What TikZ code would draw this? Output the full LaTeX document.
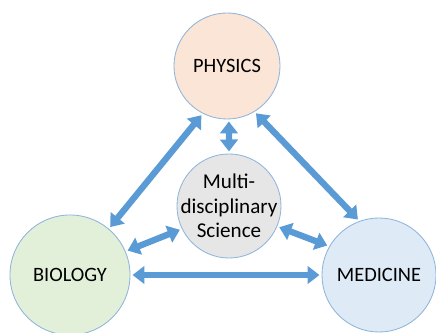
\documentclass[tikz,border=0pt]{standalone}
\usepackage{fontspec}
\setmainfont{Carlito}
\usepackage{xcolor}
\usetikzlibrary{arrows.meta}

\definecolor{physfill}{HTML}{FBE5D6}
\definecolor{biofill}{HTML}{E2F0D9}
\definecolor{medfill}{HTML}{DEEBF7}
\definecolor{scifill}{HTML}{E7E6E6}
\definecolor{ringblue}{HTML}{8FB4DC}
\definecolor{arrowblue}{HTML}{5B9BD5}

\begin{document}
\begin{tikzpicture}[
    x=0.025cm, y=-0.025cm,
    field/.style={circle, draw=ringblue, line width=0.6pt, align=center, font=\fontsize{14.5}{17}\selectfont},
    arrow/.style={{Triangle[length=8.5pt, width=12.5pt]}-{Triangle[length=8.5pt, width=12.5pt]}, line width=4.5pt, draw=arrowblue, shorten <=1.5pt, shorten >=1.5pt}
]
    \useasboundingbox (0,0) rectangle (436,333);

    \node[field, fill=physfill, minimum size=2.65cm] (phys) at (227,66) {PHYSICS};
    \node[field, fill=biofill, minimum size=3cm] (bio) at (70,275) {BIOLOGY};
    \node[field, fill=medfill, minimum size=2.85cm] (med) at (379,275) {MEDICINE};
    % text is wider than the ring, so pull the border in
    \node[field, fill=scifill, font=\fontsize{15}{17.5}\selectfont, inner sep=-6pt, minimum size=2.6cm] (sci) at (229,206) {Multi-\\disciplinary\\Science};

    \draw[arrow] (phys.-117) -- (bio.50);
    \draw[arrow] (phys.-59) -- (med.110);
    \draw[arrow] (phys.-88) -- (sci.90);
    \draw[arrow] (sci.-154) -- (bio.23);
    \draw[arrow] (sci.-23) -- (med.150);
    \draw[arrow] (bio.0) -- (med.180);
\end{tikzpicture}
\end{document}
